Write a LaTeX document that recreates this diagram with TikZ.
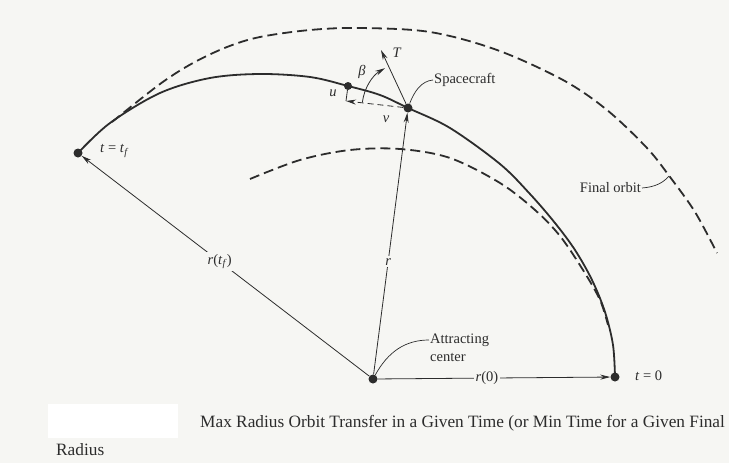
\documentclass[tikz,border=0pt]{standalone}
\usepackage{fontspec}
\setmainfont{Liberation Serif}
\usetikzlibrary{arrows.meta}
\definecolor{paper}{RGB}{246,246,243}
\definecolor{ink}{RGB}{44,44,44}

\begin{document}
\begin{tikzpicture}[x=1pt, y=-1pt,
  dot/.style={circle, fill=ink, inner sep=0pt, minimum size=9pt},
  lbl/.style={font=\fontsize{14.5}{17.5}\selectfont, text=ink, inner sep=1pt},
  onlbl/.style={lbl, fill=paper, inner sep=2pt},
  captxt/.style={font=\fontsize{17.3}{21}\selectfont, text=ink, inner sep=0pt, anchor=west},
  traj/.style={line width=1.8pt, draw=ink},
  orbit/.style={line width=1.8pt, draw=ink, dash pattern=on 10pt off 5pt},
  arr/.style={-{Stealth[length=10pt, width=5pt]}, line width=0.8pt, draw=ink},
  leader/.style={line width=0.7pt, draw=ink}
]
\path[use as bounding box, fill=paper] (0,0) rectangle (729,463);
\fill[white] (48,404) rectangle (178,438);

\node[dot] (ctr) at (373,379) {};
\node[dot] (t0)  at (615,377) {};
\node[dot] (tf)  at (78,153)  {};
\node[dot] (sc)  at (408,108) {};
\node[dot, minimum size=8pt] (ud) at (348,86) {};
\coordinate (vtip) at (346,101);
\coordinate (Ttip) at (381,50);
\coordinate (fo)   at (669,176);

\draw[traj] plot[smooth, tension=0.55] coordinates {(t0.center) (613,345) (605,312) (592,280)
  (575,250) (555,223) (530,194) (500,164) (450,128) (sc.center) (380,95) (ud.center) (310,77)
  (260,74) (210,78) (160,93) (110,123) (tf.center)};
\draw[orbit] plot[smooth, tension=0.55] coordinates {(112,122) (160,84) (193,63) (227,47) (260,37)
  (310,30) (360,28) (430,32) (497,50) (563,80) (607,110) (647,148) (670,177) (695,212) (717,253)};
\draw[orbit] plot[smooth, tension=0.55] coordinates {(250,179) (300,160) (350,150) (400,149)
  (450,158) (500,183) (535,210) (560,236) (583,270) (600,300) (608,325)};

\draw[arr] (ctr) -- node[onlbl, pos=0.47] {\textit{r}(0)} (t0);
\draw[arr] (ctr) -- node[onlbl, pos=0.52] {\textit{r}(\textit{t}\textsubscript{\textit{f}})} (tf);
\draw[arr] (ctr) -- node[onlbl, pos=0.43] {\textit{r}} (sc);
\draw[arr] (sc) -- (Ttip);
\draw[arr, dash pattern=on 6pt off 4pt] (sc) -- (vtip);
\draw[leader, line width=0.8pt] (vtip) -- (ud);
\draw[arr] ([shift={(187:46)}]sc.center) arc[start angle=187, end angle=240, radius=46];

\node[lbl] (lT) at (397,53) {\textit{T}};
\node[lbl] (lb) at (362,72) {\textit{β}};
\node[lbl] (lu) at (333,93) {\textit{u}};
\node[lbl] (lv) at (386,119) {\textit{v}};
\node[lbl, anchor=west] (ltf) at (99,151) {\textit{t} = \textit{t}\textsubscript{\textit{f}}};
\node[lbl, anchor=west] (lt0) at (634,376) {\textit{t} = 0};
\node[lbl, anchor=west] (lsc) at (433,80) {Spacecraft};
\node[lbl, anchor=west, align=left] (lctr) at (429,348) {Attracting\\center};
\node[lbl, anchor=east] (lfin) at (642,188) {Final orbit};

\draw[leader] (sc) .. controls (414,92) and (421,81) .. (lsc.west);
\draw[leader] (ctr) .. controls (388,352) and (405,340) .. ([yshift=8pt]lctr.west);
\draw[leader] (lfin.east) .. controls (655,187) and (663,183) .. (fo);

\node[captxt] (title) at (200,423) {Max Radius Orbit Transfer in a Given Time (or Min Time for a Given Final};
\node[captxt] (rad) at (56,450) {Radius};
\end{tikzpicture}
\end{document}
